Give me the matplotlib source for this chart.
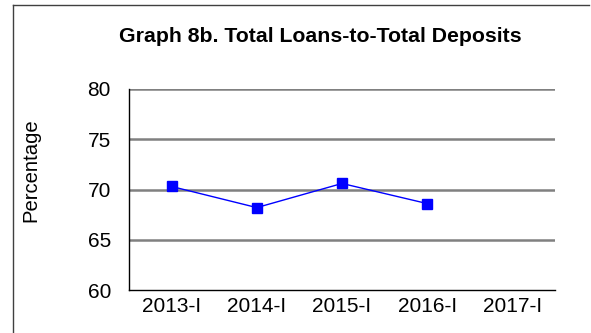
import matplotlib
matplotlib.use("Agg")
import matplotlib.pyplot as plt
from matplotlib.lines import Line2D

plt.rcParams['font.family'] = ['Liberation Sans', 'DejaVu Sans']

periods = ['2013-I', '2014-I', '2015-I', '2016-I', '2017-I']
ratio = [70.3, 68.2, 70.6, 68.6]
y_ticks = [60, 65, 70, 75, 80]

W, H = 591, 333
fig = plt.figure(figsize=(W / 100, H / 100), dpi=100)
fig.patch.set_facecolor('white')

# frame around the chart (left and top edges)
fig.add_artist(Line2D([13 / W, 13 / W], [0, 1 - 4.5 / H], color='#404040', lw=1.0))
fig.add_artist(Line2D([13 / W, 589 / W], [1 - 4.5 / H, 1 - 4.5 / H], color='#404040', lw=1.0))

ax = fig.add_axes([129 / W, 1 - 290 / H, (555 - 129) / W, (290 - 89) / H])
x = list(range(len(periods)))
ax.plot(x[:len(ratio)], ratio, color='#0000FF', lw=1.0, marker='s', markersize=6.5,
        markerfacecolor='#0000FF', markeredgecolor='#0000FF', zorder=3)

ax.set_xlim(-0.5, len(periods) - 0.5)
ax.set_ylim(60, 80)
ax.set_yticks(y_ticks)
ax.set_xticks(x)
ax.set_xticklabels(periods)
ax.tick_params(length=0, labelsize=15, pad=5)
ax.tick_params(axis='y', pad=13)

for v in y_ticks[1:]:
    ax.axhline(v, color='#808080', lw=1.8, zorder=1)

for s in ['top', 'right']:
    ax.spines[s].set_visible(False)
for s in ['left', 'bottom']:
    ax.spines[s].set_color('black')
    ax.spines[s].set_linewidth(1.0)
    ax.spines[s].set_zorder(2)

ax.set_ylabel('Percentage', fontsize=14.6)
ax.yaxis.set_label_coords((40 - 129) / (555 - 129), (290 - 170) / (290 - 89))
fig.text(320 / W, 1 - 36 / H, 'Graph 8b. Total Loans-to-Total Deposits',
         ha='center', va='center', fontsize=15.3, fontweight='bold')

fig.savefig('out.png', dpi=100)
